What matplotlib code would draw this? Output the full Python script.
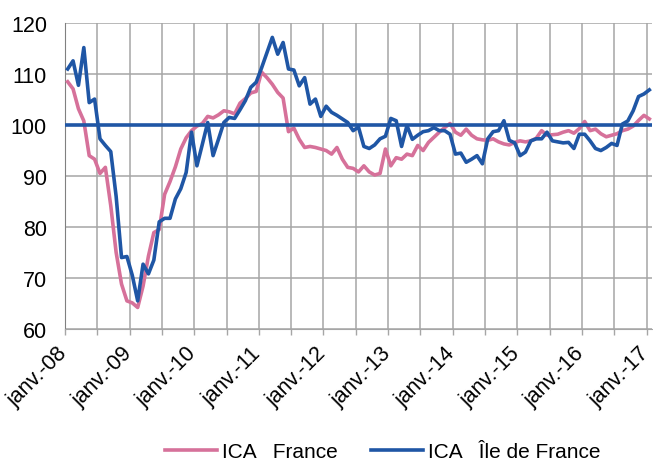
import numpy as np
import matplotlib
matplotlib.use("Agg")
import matplotlib.pyplot as plt

# --- data: monthly index, janv.-08 .. janv.-17 ---
YEAR_LABELS = ["janv.-08", "janv.-09", "janv.-10", "janv.-11", "janv.-12",
               "janv.-13", "janv.-14", "janv.-15", "janv.-16", "janv.-17"]

ica_france = [
    108.5, 107.1, 103.2, 100.8, 94.0, 93.3, 90.5, 91.7, 84.2, 75.0,
    68.8, 65.5, 65.1, 64.2, 68.4, 74.3, 78.9, 79.5, 86.4, 88.9,
    91.8, 95.3, 97.5, 98.9, 99.8, 100.3, 101.7, 101.4, 102.0, 102.8,
    102.6, 102.2, 104.3, 105.2, 106.3, 106.6, 110.4, 109.3, 108.0, 106.4,
    105.3, 98.7, 99.4, 97.2, 95.6, 95.8, 95.6, 95.3, 95.0, 94.3,
    95.6, 93.3, 91.7, 91.5, 90.8, 92.0, 90.8, 90.2, 90.5, 95.3,
    92.0, 93.6, 93.3, 94.3, 94.0, 96.0, 95.0, 96.6, 97.6, 98.6,
    99.5, 100.3, 98.6, 98.0, 99.2, 98.0, 97.3, 97.1, 97.0, 97.3,
    96.7, 96.3, 96.1, 96.6, 96.9, 96.7, 96.9, 97.4, 98.9, 98.0,
    98.1, 98.2, 98.6, 98.9, 98.4, 99.3, 100.7, 98.9, 99.2, 98.3,
    97.7, 98.0, 98.3, 98.9, 99.2, 99.8, 100.9, 101.9, 101.2,
]

ica_idf = [
    111.0, 112.6, 107.8, 115.2, 104.4, 105.1, 97.3, 96.0, 94.8, 86.0,
    74.0, 74.2, 70.5, 65.5, 72.7, 70.8, 73.5, 81.0, 81.7, 81.7,
    85.5, 87.5, 90.7, 98.6, 92.0, 96.2, 100.5, 94.0, 97.2, 100.5,
    101.5, 101.3, 103.0, 104.8, 107.4, 108.4, 111.2, 114.2, 117.2, 113.9,
    116.2, 111.0, 110.8, 107.7, 109.3, 104.1, 105.1, 101.7, 103.7, 102.5,
    101.9, 101.2, 100.5, 98.9, 99.6, 95.8, 95.4, 96.1, 97.3, 97.8,
    101.3, 100.85, 95.8, 99.9, 97.2, 98.0, 98.7, 98.9, 99.5, 98.9,
    98.9, 98.2, 94.3, 94.5, 92.7, 93.3, 94.0, 92.4, 97.3, 98.7,
    98.9, 100.85, 97.0, 96.5, 94.0, 94.7, 96.9, 97.3, 97.3, 98.6,
    96.9, 96.7, 96.5, 96.6, 95.4, 98.2, 98.2, 96.9, 95.4, 95.0,
    95.6, 96.4, 96.0, 100.2, 100.8, 102.8, 105.6, 106.1, 106.9,
]

REFERENCE = 100

PINK = "#D6719A"
BLUE = "#1F56A5"
GRID = "#A6A6A6"

plt.rcParams["font.family"] = ["Liberation Sans", "DejaVu Sans"]

fig = plt.figure(figsize=(6.53, 4.64), dpi=100)
ax = fig.add_axes([0.0995, 0.289, 0.899, 0.659])

months = np.arange(len(ica_france))
ax.plot(months, ica_france, color=PINK, lw=2.6, solid_joinstyle="round",
        label="ICA   France", zorder=3)
ax.plot(months, ica_idf, color=BLUE, lw=2.6, solid_joinstyle="round",
        label="ICA   Île de France", zorder=4)
ax.axhline(REFERENCE, color=BLUE, lw=2.6, zorder=4)

n = len(months)
ax.set_xlim(-0.5, n - 0.5)
ax.set_ylim(60, 120)
ax.set_yticks(range(60, 121, 10))

# gridlines/ticks every 6 months at category boundaries, labels yearly
ax.set_xticks(np.arange(-0.5, n, 6))
ax.set_xticklabels([])
ax.set_xticks(np.arange(0, n, 12) + 0.1, minor=True)
ax.set_xticklabels(YEAR_LABELS, minor=True, rotation=45, ha="right",
                   va="baseline", rotation_mode="anchor")
ax.tick_params(axis="x", which="major", length=4, color=GRID, width=1)
ax.tick_params(axis="x", which="minor", length=0, pad=18, labelsize=15.5)
ax.tick_params(axis="y", length=0, pad=13, labelsize=15.5)

ax.grid(True, which="major", color=GRID, lw=1.1)
ax.set_axisbelow(True)
for s in ["top", "right"]:
    ax.spines[s].set_visible(False)
ax.spines["left"].set_color("#808080")
ax.spines["bottom"].set_color(GRID)

fig.legend(loc="center", bbox_to_anchor=(0.586, 0.024), ncol=2,
           frameon=False, fontsize=15, handlelength=2.5,
           handletextpad=0.25, columnspacing=1.6, borderaxespad=0,
           borderpad=0.1)

fig.savefig("out.png", dpi=100)
